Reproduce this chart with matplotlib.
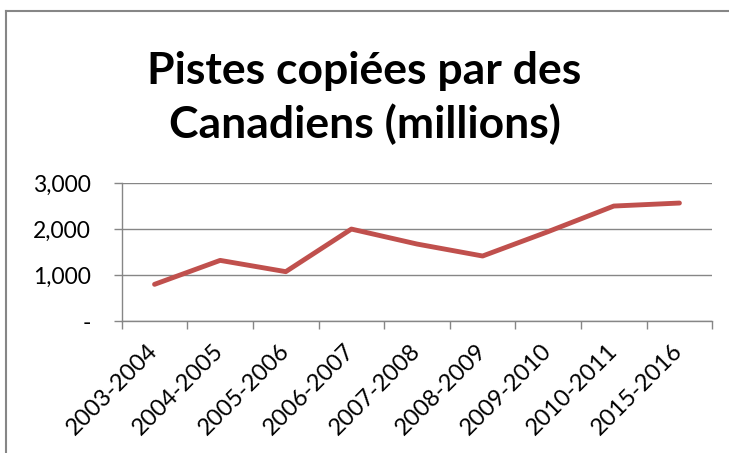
import matplotlib.pyplot as plt
from matplotlib.ticker import FuncFormatter
from matplotlib.lines import Line2D

plt.rcParams['font.family'] = ['Lato', 'DejaVu Sans']

periods = ['2003-2004', '2004-2005', '2005-2006', '2006-2007', '2007-2008',
           '2008-2009', '2009-2010', '2010-2011', '2015-2016']
tracks = [800, 1320, 1075, 2000, 1675, 1415, 1945, 2500, 2565]

fig = plt.figure(figsize=(7.29, 4.53), dpi=100)
ax = fig.add_axes([0.167, 0.291, 0.81, 0.305])

x = range(len(periods))
ax.plot(x, tracks, color='#C0504D', lw=3.5, solid_capstyle='round', zorder=3)

ax.set_xlim(-0.5, len(periods) - 0.5)
ax.set_ylim(0, 3000)
ax.set_yticks([0, 1000, 2000, 3000])
ax.yaxis.set_major_formatter(FuncFormatter(lambda v, p: '-' if v == 0 else f'{int(v):,}'))
ax.grid(axis='y', color='#868686', lw=1)
ax.set_axisbelow(True)

# categories sit between tick marks, like in Excel
ax.set_xticks([i - 0.5 for i in range(len(periods) + 1)])
ax.set_xticklabels([])
ax.set_xticks(list(x), minor=True)
ax.set_xticklabels(periods, minor=True, rotation=45, ha='right', va='center',
                   rotation_mode='anchor', fontsize=17)
ax.tick_params(axis='x', which='minor', length=0, pad=19)
ax.tick_params(axis='x', which='major', length=6, color='#868686', width=1)
ax.tick_params(axis='y', length=6, color='#868686', width=1, labelsize=16.5, pad=16)

for s in ['top', 'right']:
    ax.spines[s].set_visible(False)
for s in ['left', 'bottom']:
    ax.spines[s].set_color('#868686')
    ax.spines[s].set_linewidth(1)

fig.text(0.5, 0.783, 'Pistes copiées par des\nCanadiens (millions)', ha='center', va='center',
         fontsize=32, fontweight='bold', linespacing=1.35)

# chart frame (left and top edges only visible in the crop)
fig.add_artist(Line2D([0.008, 0.008], [0, 0.976], color='#868686', lw=1.5, transform=fig.transFigure))
fig.add_artist(Line2D([0.008, 1.0], [0.976, 0.976], color='#868686', lw=1.5, transform=fig.transFigure))

plt.savefig('out.png', dpi=100)
